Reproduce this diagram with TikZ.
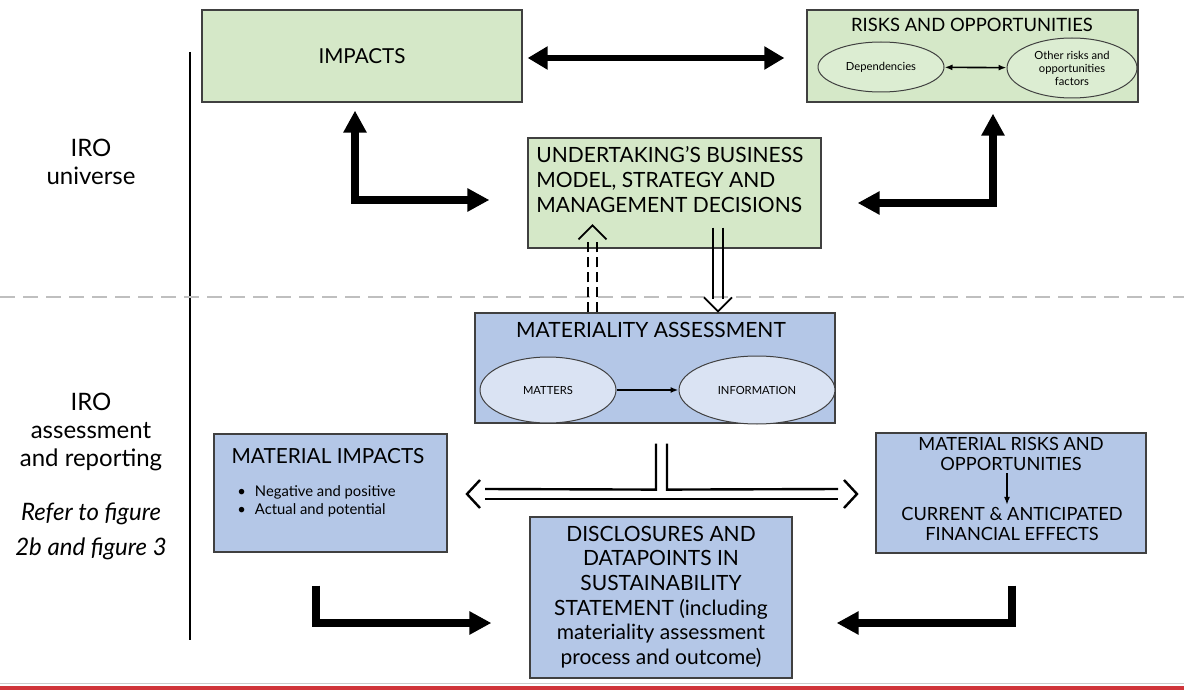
\documentclass[tikz,border=0pt]{standalone}
\usepackage{fontspec}
\setmainfont{Lato}
\usetikzlibrary{positioning,arrows.meta,calc,shapes.geometric}
\definecolor{boxgreen}{HTML}{D5E8C8}
\definecolor{ellgreen}{HTML}{DCEDD2}
\definecolor{boxblue}{HTML}{B4C7E7}
\definecolor{ellblue}{HTML}{DAE3F3}
\definecolor{edgegray}{HTML}{404040}
\definecolor{barred}{HTML}{D0343A}
\tikzset{
  >=Latex,
  fathead/.tip={Triangle[length=11pt,width=11pt]},
  midhead/.tip={Triangle[length=10pt,width=11pt]},
  box/.style={rectangle, draw=edgegray, line width=0.6pt, inner sep=0pt},
  greenbox/.style={box, fill=boxgreen},
  bluebox/.style={box, fill=boxblue},
  oval/.style={ellipse, draw=edgegray, line width=0.5pt, inner sep=0pt, align=center},
  head/.style={inner sep=0pt, font=\fontsize{10.5}{12.5}\selectfont},
  small/.style={inner sep=0pt, font=\fontsize{5.6}{6.5}\selectfont},
  side/.style={inner sep=0pt, align=center, font=\fontsize{12}{14}\selectfont},
  fat/.style={line width=4pt, line join=miter},
  twin/.style={line width=0.9pt},
  chev/.style={line width=0.9pt, line join=miter}
}
\begin{document}
\begin{tikzpicture}[x=0.5pt,y=-0.5pt]
\useasboundingbox (0,0) rectangle (1184,690);
% upper boxes
\node[greenbox, minimum width=160pt, minimum height=46pt,
  font=\fontsize{10.3}{12}\selectfont] (impacts) at (362,56) {IMPACTS};
\node[greenbox, minimum width=165.5pt, minimum height=46pt] (risks) at (972.5,56) {};
\node[head, anchor=base, font=\fontsize{9.2}{11}\selectfont] (risksT) at (972,32) {RISKS AND OPPORTUNITIES};
\node[oval, fill=ellgreen, minimum width=63pt, minimum height=25pt, small] (dep) at (881,67) {Dependencies};
\node[oval, fill=ellgreen, minimum width=65pt, minimum height=30pt, small] (other) at (1072,68)
  {Other risks and\\opportunities\\factors};
\node[greenbox, minimum width=146.5pt, minimum height=55pt] (model) at (674.5,193) {};
\node[head, align=left, anchor=west, font=\fontsize{10.5}{12.5}\selectfont] (modelT) at (536,180)
  {UNDERTAKING’S BUSINESS\\MODEL, STRATEGY AND\\MANAGEMENT DECISIONS};
% lower boxes
\node[bluebox, minimum width=180pt, minimum height=55pt] (matass) at (655,368) {};
\node[head, anchor=base] (matassT) at (651,337) {MATERIALITY ASSESSMENT};
\node[oval, fill=ellblue, minimum width=68pt, minimum height=33pt, small] (matters) at (548,390) {MATTERS};
\node[oval, fill=ellblue, minimum width=78pt, minimum height=34pt, small] (info) at (757,390) {INFORMATION};
\node[bluebox, minimum width=116.5pt, minimum height=59pt] (matimp) at (330.5,493) {};
\node[head, anchor=base, font=\fontsize{10.4}{12}\selectfont] (matimpT) at (328,463) {MATERIAL IMPACTS};
\node[inner sep=0pt, anchor=west, align=left, font=\fontsize{7.4}{9}\selectfont] (bullets) at (237,501)
  {\textbullet\hspace{4.5pt}Negative and positive\\\textbullet\hspace{4.5pt}Actual and potential};
\node[bluebox, minimum width=135pt, minimum height=60pt] (matrisk) at (1011,493) {};
\node[inner sep=0pt, align=center, font=\fontsize{9.1}{10}\selectfont] (riskT) at (1011,454)
  {MATERIAL RISKS AND\\OPPORTUNITIES};
\node[inner sep=0pt, align=center, font=\fontsize{9.1}{10}\selectfont] (effT) at (1012,524)
  {CURRENT \& ANTICIPATED\\FINANCIAL EFFECTS};
\node[bluebox, minimum width=131pt, minimum height=80.5pt] (disc) at (661,597.5) {};
\node[inner sep=0pt, align=center, font=\fontsize{10.5}{12.3}\selectfont] (discT) at (661,597)
  {DISCLOSURES AND\\DATAPOINTS IN\\SUSTAINABILITY\\STATEMENT (including\\materiality assessment\\process and outcome)};
% side labels
\node[side] (univ) at (91,162) {IRO\\universe};
\node[side] (assess) at (91,432) {IRO\\assessment\\and reporting};
\node[side, font=\fontsize{12}{17.5}\itshape] (refer) at (91,531) {Refer to figure\\2b and figure 3};
\draw[line width=1.2pt] (190,52) -- (190,640);
\draw[line width=0.75pt, color=black!25, dash pattern=on 7.5pt off 4pt] (0,297) -- (1184,297);
% thick arrows
\draw[line width=3pt, midhead-midhead] ($(impacts.east)+(5,2)$) -- ($(risks.west)+(-22,2)$);
\draw[fat, fathead-fathead] ($(impacts.south)+(-7,8)$) |- ($(model.west)+(-38,7)$);
\draw[fat, fathead-fathead] ($(risks.south)+(20.5,11)$) |- ($(model.east)+(36,10)$);
\draw[fat, -fathead] ($(matimp.south)+(-14.5,33)$) |- ($(disc.west)+(-38,25.5)$);
\draw[fat, -fathead] ($(matrisk.south)+(1,32)$) |- ($(disc.east)+(44,25.5)$);
% thin arrows inside boxes
\draw[line width=0.8pt, {Latex[length=4pt]}-{Latex[length=4pt]}] (dep) -- (other);
\draw[line width=0.8pt, -{Latex[length=4pt]}] (matters) -- (info);
\draw[line width=0.8pt, -{Latex[length=4pt]}] ($(riskT.south)+(-4,2)$) -- ($(effT.north)+(-5,-2)$);
% double links between the two parts
\coordinate (upTip) at ($(matass.north)+(-62.5,-87)$);
\foreach \dx in {-4.5,4.5}
  \draw[twin, dash pattern=on 5pt off 2.5pt] ($(matass.north)+(-62.5+\dx,0)$) -- ($(upTip)+(\dx,13)$);
\draw[chev] ($(upTip)+(-14,14)$) -- (upTip) -- ($(upTip)+(14,14)$);
\coordinate (downTip) at ($(matass.north)+(63,-1)$);
\foreach \dx in {-5,5}
  \draw[twin] ($(model.south)+(43.5+\dx,-21)$) -- ($(downTip)+(\dx,-12)$);
\draw[chev] ($(downTip)+(-14,-14)$) -- (downTip) -- ($(downTip)+(14,-14)$);
% split to material impacts / risks
\coordinate (stemL) at ($(matass.south)+(1,20)$);
\coordinate (stemR) at ($(matass.south)+(12,20)$);
\coordinate (leftTip) at (467,494);
\coordinate (rightTip) at (857,494);
\draw[line width=1.2pt] (stemL) -- ++(0,46) -- ($(leftTip)+(18,-5)$);
\draw[line width=1.2pt] (stemR) -- ++(0,46) -- ($(rightTip)+(-19,-5)$);
\draw[line width=1.2pt] ($(leftTip)+(18,5)$) -- ($(rightTip)+(-19,5)$);
\draw[chev, line width=1.2pt] ($(leftTip)+(13,-14)$) -- (leftTip) -- ($(leftTip)+(13,14)$);
\draw[chev, line width=1.2pt] ($(rightTip)+(-13,-14)$) -- (rightTip) -- ($(rightTip)+(-13,14)$);
% footer
\draw[line width=0.5pt, color=black!20] (0,683) -- (1184,683);
\fill[barred] (0,686) rectangle (1184,690);
\end{tikzpicture}
\end{document}
